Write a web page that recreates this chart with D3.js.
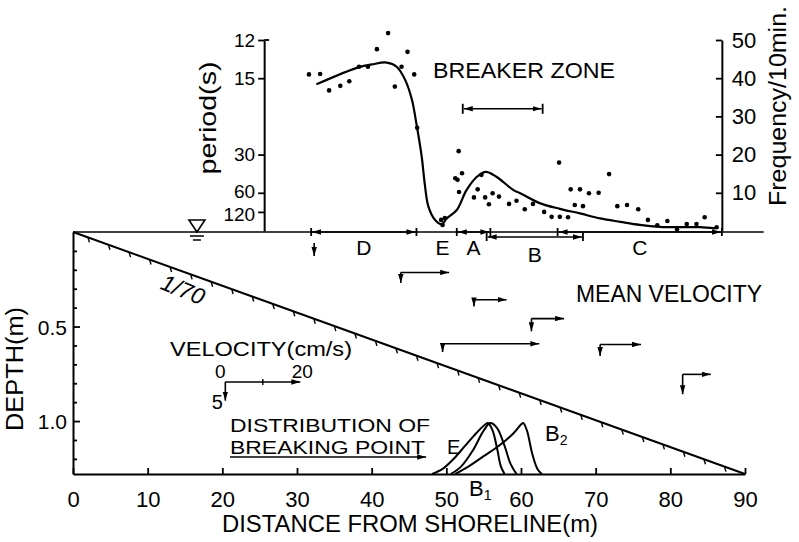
<!DOCTYPE html>
<html>
<head>
<meta charset="utf-8">
<script src="https://cdn.jsdelivr.net/npm/d3@7"></script>
<style>
  body { margin: 0; background: #fff; }
  text { font-family: "Liberation Sans", Arial, sans-serif; fill: #000; }
</style>
</head>
<body>
<svg id="grafico"></svg>
<script>
// frequência das ondas (por 10 min) medida ao longo do perfil
const pontosDistancia = [31.6, 33.1, 34.3, 35.8, 37.0, 38.3, 39.5, 40.7, 42.2, 43.1, 44.0, 44.8, 45.7, 46.1,
  49.3, 49.5, 49.8, 51.65, 51.2, 51.5, 52.1, 51.7, 54.2, 54.7, 53.7, 55.2, 55.7, 56.2, 57.05, 58.4, 59.4,
  60.5, 61.6, 63.1, 64.1, 65.2, 66.3, 65.1, 66.65, 67.9, 69.1, 70.4, 67.2, 68.3, 71.8, 72.9, 74.2, 75.7,
  77.0, 78.25, 79.6, 80.9, 82.2, 83.5, 84.6, 86.2];
const pontosFrequencia = [41.0, 41.1, 36.8, 38.0, 39.2, 43.0, 43.0, 47.6, 51.8, 37.8, 43.0, 46.9, 41.0, 27.0,
  2.9, 1.6, 3.4, 20.9, 13.8, 13.4, 15.1, 10.2, 10.9, 14.7, 8.8, 8.8, 7.0, 9.9, 9.0, 7.1, 7.9,
  5.7, 7.1, 5.0, 3.7, 3.7, 3.6, 17.9, 10.9, 10.9, 9.9, 10.0, 6.8, 6.5, 14.9, 6.5, 6.8, 5.7,
  2.9, 1.5, 2.6, 0.4, 1.8, 1.8, 3.6, 1.0];

// curva média da frequência
const curvaDistancia = [32.6, 38.3, 40.0, 42.0, 43.35, 44.5, 45.4, 46.0, 46.7, 47.1, 47.6, 48.5, 49.4, 50.05,
  51.4, 52.7, 54.1, 55.3, 56.7, 59.0, 59.9, 62.5, 65.2, 67.9, 70.6, 73.3, 75.9, 78.6, 81.3, 84.0, 86.0];
const curvaFrequencia = [38.4, 42.9, 43.6, 44.1, 43.0, 39.5, 34.3, 28.0, 19.5, 12.5, 6.4, 2.9, 1.8, 3.3,
  5.5, 10.7, 14.2, 15.5, 14.2, 10.7, 9.9, 7.3, 5.8, 4.6, 3.3, 2.4, 1.6, 1.1, 1.0, 1.0, 0.7];

// rótulos dos eixos
const periodos = [12, 15, 30, 60, 120];
const frequenciaTicks = [10, 20, 30, 40, 50];
const distanciaTicks = [0, 10, 20, 30, 40, 50, 60, 70, 80, 90];
const profundidadeTicks = [0.1, 0.2, 0.3, 0.4, 0.5, 0.6, 0.7, 0.8, 0.9, 1.0, 1.1, 1.2];
const profundidadeRotulos = [0.5, 1.0];

// perfil do fundo (declive 1/70)
const perfilDistancia = [0, 90];
const perfilProfundidade = [0, 1.28];

// zonas ao longo da linha d'água
const zonaNomes = ['D', 'A', 'B', 'C'];
const zonaInicio = [31.9, 51.4, 55.4, 64.9];
const zonaFim = [46.0, 55.9, 68.3, 86.9];
const zonaLinha = [0, 0, 1, 0];
const pontoE = 49.5;
const zonaArrebentacao = [52.2, 62.9];

// velocidade média (cm/s): posição, componente horizontal u e vertical w
const velDistancia = [32.3, 43.9, 53.7, 61.4, 49.5, 70.6, 81.65];
const velProfundidade = [0.058, 0.214, 0.358, 0.458, 0.591, 0.595, 0.753];
const velU = [0, 12.9, 8.7, 8.7, 25.8, 10.9, 7.5];
const velW = [3.5, 2.8, 1.8, 3.4, 2.2, 3.1, 5.3];

// distribuição do ponto de arrebentação (frequência relativa)
const distE = [[48.1, 0], [49.5, 0.1], [51.0, 0.3], [52.5, 0.55], [54.0, 0.8], [55.2, 0.97], [55.6, 1.0], [56.2, 0.85], [56.8, 0.5], [57.3, 0.15], [57.8, 0]];
const distB1 = [[50.6, 0], [52.0, 0.15], [53.5, 0.45], [55.0, 0.85], [55.9, 1.0], [56.8, 0.9], [57.8, 0.55], [58.6, 0.2], [59.4, 0]];
const distB2 = [[51.2, 0], [53.0, 0.15], [55.0, 0.35], [57.0, 0.55], [59.0, 0.8], [60.0, 0.97], [60.3, 1.0], [60.8, 0.85], [61.5, 0.4], [62.2, 0.1], [62.8, 0]];

const largura = 799, altura = 542;
const svg = d3.select('#grafico').attr('width', largura).attr('height', altura);

// escalas
const x = d3.scaleLinear().domain([0, 90]).range([73, 745]);
const yFreq = d3.scaleLinear().domain([0, 50]).range([231, 40]);
const yProf = d3.scaleLinear().domain([0, 1.28]).range([232, 474]);
const yDistrib = d3.scaleLinear().domain([0, 1]).range([474, 423]);
const escalaVel = d3.scaleLinear().domain([0, 20]).range([0, 75]);

// ponta de seta
const defs = svg.append('defs');
defs.append('marker')
    .attr('id', 'seta')
    .attr('viewBox', '0 0 10 6')
    .attr('refX', 10).attr('refY', 3)
    .attr('markerWidth', 9).attr('markerHeight', 6)
    .attr('markerUnits', 'userSpaceOnUse')
    .attr('orient', 'auto-start-reverse')
  .append('path').attr('d', 'M0,0L10,3L0,6Z').attr('fill', '#000');

const traco = (sel, w) => sel.attr('stroke', '#000').attr('stroke-width', w).attr('fill', 'none');

// ---------- painel inferior: perfil ----------
const eixoDist = d3.axisBottom(x).tickValues(distanciaTicks).tickSizeInner(-6).tickSizeOuter(0).tickPadding(17);
const gDist = svg.append('g').attr('transform', `translate(0, ${yProf(1.28)})`).call(eixoDist);
gDist.selectAll('text').style('font-size', '22px');

const eixoProf = d3.axisLeft(yProf).tickValues(profundidadeTicks)
    .tickSizeInner(-4).tickSizeOuter(0).tickPadding(6)
    .tickFormat(d => profundidadeRotulos.includes(d) ? d3.format('.1f')(d) : '');
const gProf = svg.append('g').attr('transform', `translate(${x(0)}, 0)`).call(eixoProf);
gProf.selectAll('text').style('font-size', '21px').attr('dy', '0.36em');
gProf.selectAll('.tick line').filter(d => profundidadeRotulos.includes(d)).attr('x2', 7);
[gDist, gProf].forEach(g => {
  g.select('.domain').attr('stroke-width', 2);
  g.selectAll('.tick line').attr('stroke-width', 1.8);
});

// linha d'água
svg.append('line').call(traco, 1.6)
    .attr('x1', x(0)).attr('x2', x(92.5))
    .attr('y1', yProf(0)).attr('y2', yProf(0));

// fundo com hachura
const fundo = d3.line().x(d => x(d[0])).y(d => yProf(d[1]));
const perfil = perfilDistancia.map((d, i) => [d, perfilProfundidade[i]]);
svg.append('path').datum(perfil).call(traco, 2).attr('d', fundo);
const incl = d3.scaleLinear().domain(perfilDistancia).range(perfilProfundidade);
svg.append('g').selectAll('line').data(d3.range(2, 89, 2.75)).join('line')
    .call(traco, 1.4)
    .attr('x1', d => x(d)).attr('y1', d => yProf(incl(d)))
    .attr('x2', d => x(d) + 1.5).attr('y2', d => yProf(incl(d)) + 5);

// símbolo do nível d'água
const xNivel = x(16.6), yNivel = yProf(0);
svg.append('path').call(traco, 1.6)
    .attr('d', `M${xNivel - 8},${yNivel - 12}L${xNivel + 8},${yNivel - 12}L${xNivel},${yNivel}Z`);
svg.append('path').call(traco, 1.6)
    .attr('d', `M${xNivel - 7},${yNivel + 4}L${xNivel + 7},${yNivel + 4}M${xNivel - 4},${yNivel + 8}L${xNivel + 4},${yNivel + 8}`);

// vetores de velocidade média
const gVel = svg.append('g');
velDistancia.forEach((d, i) => {
  const x0 = x(d), y0 = yProf(velProfundidade[i]);
  if (velU[i] > 0) {
    gVel.append('line').call(traco, 1.6)
        .attr('x1', x0).attr('y1', y0).attr('x2', x0 + escalaVel(velU[i])).attr('y2', y0)
        .attr('marker-end', 'url(#seta)');
  }
  gVel.append('line').call(traco, 1.6)
      .attr('x1', x0).attr('y1', y0).attr('x2', x0).attr('y2', y0 + escalaVel(velW[i]))
      .attr('marker-end', 'url(#seta)');
});

// legenda de velocidade
const legX = x(20.4), legY = yProf(0.793);
svg.append('line').call(traco, 1.6)
    .attr('x1', legX).attr('y1', legY).attr('x2', legX + escalaVel(20)).attr('y2', legY)
    .attr('marker-end', 'url(#seta)');
svg.append('line').call(traco, 1.4)
    .attr('x1', legX + escalaVel(10)).attr('x2', legX + escalaVel(10))
    .attr('y1', legY - 3).attr('y2', legY + 3);
svg.append('line').call(traco, 1.6)
    .attr('x1', legX).attr('y1', legY).attr('x2', legX).attr('y2', legY + escalaVel(5))
    .attr('marker-end', 'url(#seta)');
svg.append('text').attr('x', legX - 5).attr('y', legY - 4).attr('text-anchor', 'middle').style('font-size', '19px').text('0');
svg.append('text').attr('x', legX + escalaVel(20) + 2).attr('y', legY - 4).attr('text-anchor', 'middle').style('font-size', '19px').text('20');
svg.append('text').attr('x', legX - 8).attr('y', legY + 27).attr('text-anchor', 'middle').style('font-size', '20px').text('5');
svg.append('text').attr('x', 170).attr('y', 356).attr('textLength', 182).attr('lengthAdjust', 'spacingAndGlyphs')
    .style('font-size', '21px').text('VELOCITY(cm/s)');
svg.append('text').attr('x', 576).attr('y', 302).attr('textLength', 186).attr('lengthAdjust', 'spacingAndGlyphs')
    .style('font-size', '23px').text('MEAN VELOCITY');

// declive
svg.append('text').attr('transform', `translate(180, 297) rotate(22)`).attr('text-anchor', 'middle')
    .style('font-size', '23px').style('font-style', 'italic').text('1/70');

// distribuição do ponto de arrebentação
const linhaDistrib = d3.line().x(d => x(d[0])).y(d => yDistrib(d[1])).curve(d3.curveCatmullRom);
[distE, distB1, distB2].forEach(dados => {
  svg.append('path').datum(dados).call(traco, 2).attr('d', linhaDistrib);
});
svg.append('text').attr('x', 230).attr('y', 432).attr('textLength', 200).attr('lengthAdjust', 'spacingAndGlyphs')
    .style('font-size', '19px').text('DISTRIBUTION OF');
svg.append('text').attr('x', 230).attr('y', 454).attr('textLength', 195).attr('lengthAdjust', 'spacingAndGlyphs')
    .style('font-size', '19px').text('BREAKING POINT');
svg.append('text').attr('x', 447).attr('y', 454).style('font-size', '20px').text('E');
svg.append('line').call(traco, 1.6)
    .attr('x1', 230).attr('x2', x(47.3)).attr('y1', 457).attr('y2', 457)
    .attr('marker-end', 'url(#seta)');
const rotuloB1 = svg.append('text').attr('x', 469).attr('y', 496).style('font-size', '22px');
rotuloB1.append('tspan').text('B');
rotuloB1.append('tspan').attr('dy', 4).style('font-size', '14px').text('1');
const rotuloB2 = svg.append('text').attr('x', 545).attr('y', 441).style('font-size', '22px');
rotuloB2.append('tspan').text('B');
rotuloB2.append('tspan').attr('dy', 4).style('font-size', '14px').text('2');

// títulos dos eixos inferiores
svg.append('text').attr('x', 222).attr('y', 532).attr('textLength', 376).attr('lengthAdjust', 'spacingAndGlyphs')
    .style('font-size', '23px').text('DISTANCE FROM SHORELINE(m)');
svg.append('text').attr('transform', 'translate(23, 369) rotate(-90)').attr('text-anchor', 'middle')
    .attr('textLength', 124).attr('lengthAdjust', 'spacingAndGlyphs')
    .style('font-size', '23px').text('DEPTH(m)');

// zonas sobre a linha d'água
const gZonas = svg.append('g');
zonaNomes.forEach((nome, i) => {
  const yz = yProf(0) + zonaLinha[i] * 5;
  const xa = x(zonaInicio[i]), xb = x(zonaFim[i]);
  gZonas.append('line').call(traco, 1.6)
      .attr('x1', xa + 1).attr('x2', xb - 1).attr('y1', yz).attr('y2', yz)
      .attr('marker-start', 'url(#seta)').attr('marker-end', 'url(#seta)');
  [xa, xb].forEach(xx => gZonas.append('line').call(traco, 1.8)
      .attr('x1', xx).attr('x2', xx).attr('y1', yz - 4).attr('y2', yz + 4));
  gZonas.append('text').attr('x', (xa + xb) / 2).attr('y', 255 + zonaLinha[i] * 7)
      .attr('text-anchor', 'middle').style('font-size', '21px').text(nome);
});
gZonas.append('text').attr('x', x(pontoE)).attr('y', 255).attr('text-anchor', 'middle')
    .style('font-size', '21px').text('E');

// ---------- painel superior: frequência das ondas ----------
const xPeriodo = x(25.6), xFreq = x(86.9);

const eixoFreq = d3.axisRight(yFreq).tickValues(frequenciaTicks).tickSizeInner(-6).tickSizeOuter(0).tickPadding(10);
const gFreq = svg.append('g').attr('transform', `translate(${xFreq}, 0)`).call(eixoFreq);
gFreq.selectAll('text').style('font-size', '22px');

const eixoPeriodo = d3.axisLeft(yFreq).tickValues(periodos.map(p => 600 / p))
    .tickFormat((d, i) => periodos[i]).tickSizeInner(6).tickSizeOuter(0).tickPadding(3);
const gPeriodo = svg.append('g').attr('transform', `translate(${xPeriodo}, 0)`).call(eixoPeriodo);
gPeriodo.selectAll('text').style('font-size', '19px');
// os dois últimos rótulos ficam muito próximos: afasta um pouco
gPeriodo.selectAll('text').filter((d, i) => i === 3).attr('y', -1);
gPeriodo.selectAll('text').filter((d, i) => i === 4).attr('y', 3);
[gFreq, gPeriodo].forEach(g => {
  g.select('.domain').attr('stroke-width', 2);
  g.selectAll('.tick line').attr('stroke-width', 1.8);
});
gPeriodo.append('line').call(traco, 1.8).attr('x1', 0).attr('x2', 5).attr('y1', yFreq(50)).attr('y2', yFreq(50));

svg.append('text').attr('transform', 'translate(216, 118) rotate(-90)').attr('text-anchor', 'middle')
    .attr('textLength', 113).attr('lengthAdjust', 'spacingAndGlyphs')
    .style('font-size', '24px').text('period(s)');
svg.append('text').attr('transform', 'translate(786, 106) rotate(-90)').attr('text-anchor', 'middle')
    .attr('textLength', 200).attr('lengthAdjust', 'spacingAndGlyphs')
    .style('font-size', '23px').text('Frequency/10min.');

// curva média
const linhaFreq = d3.line().x(d => x(d[0])).y(d => yFreq(d[1])).curve(d3.curveCatmullRom);
svg.append('path').datum(curvaDistancia.map((d, i) => [d, curvaFrequencia[i]]))
    .call(traco, 2.2).attr('d', linhaFreq);

// pontos medidos
svg.append('g').selectAll('circle').data(pontosDistancia).join('circle')
    .attr('cx', d => x(d))
    .attr('cy', (d, i) => yFreq(pontosFrequencia[i]))
    .attr('r', 2.3)
    .attr('fill', '#000');

// zona de arrebentação
const yZona = yFreq(32);
svg.append('line').call(traco, 1.6)
    .attr('x1', x(zonaArrebentacao[0]) + 1).attr('x2', x(zonaArrebentacao[1]) - 1)
    .attr('y1', yZona).attr('y2', yZona)
    .attr('marker-start', 'url(#seta)').attr('marker-end', 'url(#seta)');
zonaArrebentacao.forEach(d => svg.append('line').call(traco, 1.8)
    .attr('x1', x(d)).attr('x2', x(d)).attr('y1', yZona - 5).attr('y2', yZona + 5));
svg.append('text').attr('x', 433).attr('y', 78).attr('textLength', 182).attr('lengthAdjust', 'spacingAndGlyphs')
    .style('font-size', '22px').text('BREAKER ZONE');
</script>
</body>
</html>
